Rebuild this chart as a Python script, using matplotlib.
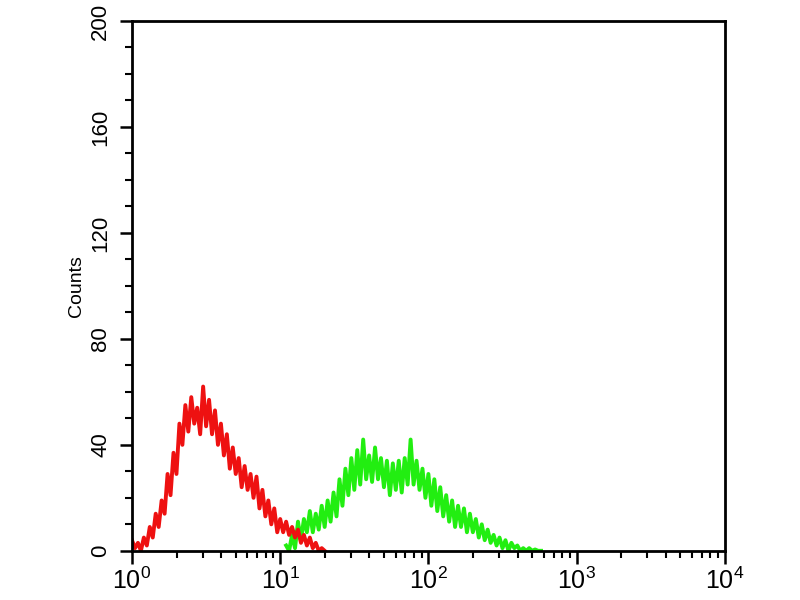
import numpy as np
import matplotlib.pyplot as plt
from matplotlib.ticker import LogLocator, MultipleLocator, FixedLocator

plt.rcParams['font.family'] = ['Liberation Sans', 'DejaVu Sans']
plt.rcParams['mathtext.fontset'] = 'custom'
plt.rcParams['mathtext.rm'] = 'Liberation Sans'

# histogram channels (log10 of first channel, log10 step)
red_start = 0.00
red_step = 0.02
red_counts = [4, 1, 3, 0, 5, 2, 9, 5, 14, 9, 19, 14, 29, 21, 37, 29, 48, 40,
              55, 45, 58, 48, 54, 44, 62, 47, 57, 44, 53, 40, 48, 36, 44, 31,
              39, 29, 35, 24, 32, 23, 29, 20, 28, 16, 23, 13, 19, 10, 16, 7,
              12, 7, 11, 6, 9, 5, 8, 3, 6, 2, 5, 1, 3, 0, 1, 0]

green_start = 1.04
green_step = 0.02
green_counts = [2, 0, 6, 1, 11, 4, 12, 7, 15, 7, 14, 8, 17, 9, 19, 11, 22, 13,
                27, 17, 31, 21, 35, 23, 38, 25, 42, 27, 36, 26, 39, 27, 35, 24,
                34, 21, 33, 23, 34, 22, 35, 25, 42, 25, 34, 23, 31, 20, 29, 17,
                27, 15, 24, 13, 21, 11, 19, 9, 17, 9, 16, 7, 14, 7, 12, 5,
                10, 4, 8, 3, 6, 2, 5, 1, 4, 0, 3, 1, 2, 0, 1, 0, 1, 0, 0.5, 0, 0]

y_ticks = [0, 40, 80, 120, 160, 200]

red_x = 10 ** (red_start + red_step * np.arange(len(red_counts)))
green_x = 10 ** (green_start + green_step * np.arange(len(green_counts)))

fig = plt.figure(figsize=(8, 6), dpi=100)
ax = fig.add_axes([0.165, 0.082, 0.741, 0.883])

ax.plot(green_x, green_counts, color='#22ee11', lw=2.8)
ax.plot(red_x, red_counts, color='#ee1111', lw=2.8)

ax.set_xscale('log')
ax.set_xlim(1, 1e4)
ax.set_ylim(0, 200)

ax.xaxis.set_major_locator(LogLocator(base=10))
ax.xaxis.set_minor_locator(LogLocator(base=10, subs=np.arange(2, 10)))
ax.yaxis.set_major_locator(FixedLocator(y_ticks))
ax.yaxis.set_minor_locator(MultipleLocator(10))

for s in ax.spines.values():
    s.set_linewidth(2)

ax.tick_params(axis='both', which='major', direction='out', length=9, width=1.8)
ax.tick_params(axis='both', which='minor', direction='out', length=5, width=1.5)
ax.tick_params(axis='y', which='major', pad=6, labelsize=16)
ax.tick_params(axis='x', which='major', pad=3, labelsize=18)
for lab in ax.get_yticklabels():
    lab.set_rotation(90)
    lab.set_va('center')

ax.set_ylabel('Counts', fontsize=14, labelpad=4)

fig.savefig('out.png', dpi=100)
